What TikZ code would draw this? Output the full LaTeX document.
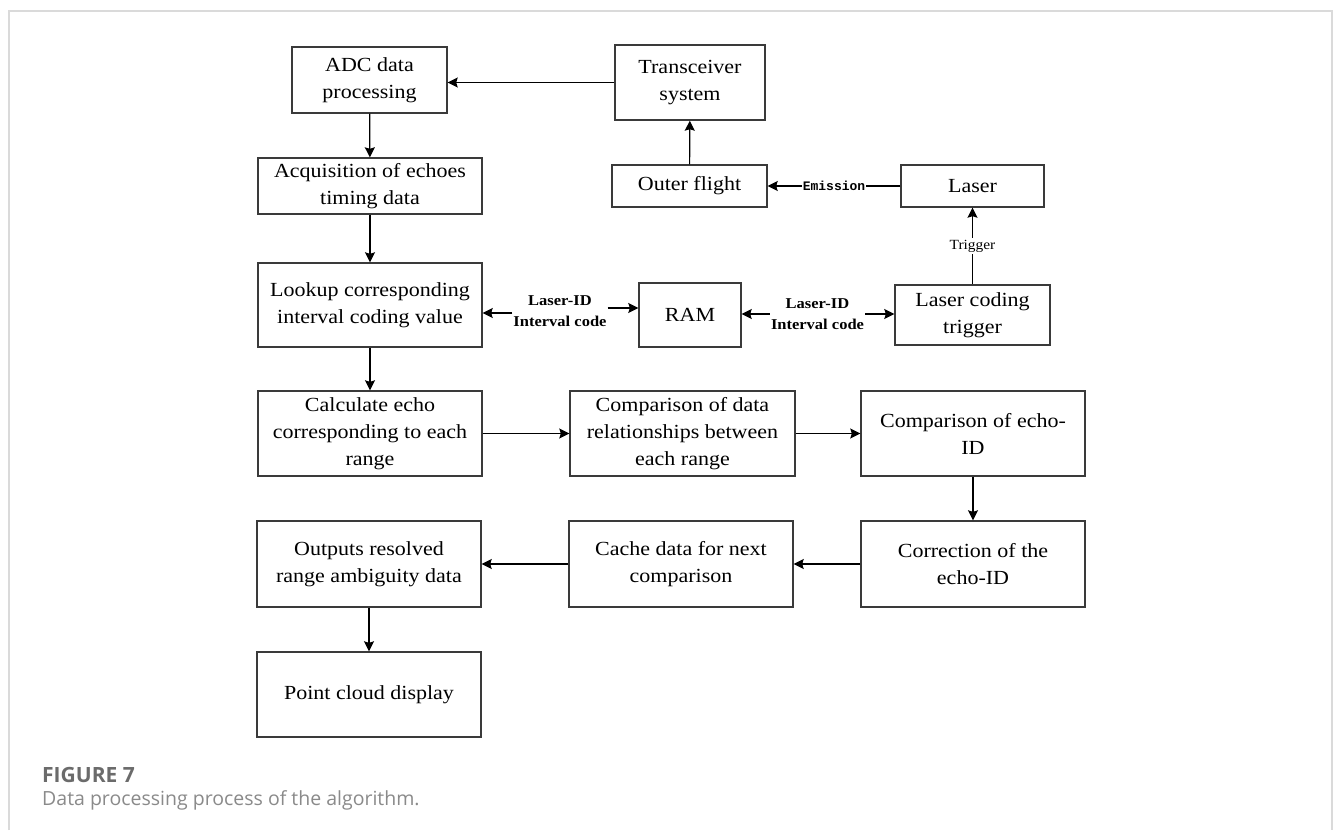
\documentclass[tikz,border=0pt]{standalone}
\usepackage{fontspec}
\setmainfont[FakeStretch=1.1]{Liberation Serif}
\newfontfamily\capfont{Open Sans}
\newfontfamily\emfont{Liberation Mono}
\usetikzlibrary{arrows.meta}
\definecolor{frame}{HTML}{DADADA}
\definecolor{boxline}{HTML}{3A3A3A}
\definecolor{capdark}{HTML}{6B6B6B}
\definecolor{caplight}{HTML}{8A8A8A}
\begin{document}
\begin{tikzpicture}[x=1pt,y=-1pt,
  box/.style={draw=boxline, line width=1.4pt, align=center, inner sep=0pt,
    font=\fontsize{20}{27}\selectfont, text=black},
  conn/.style={draw=black, line width=1.2pt, -{Stealth[length=10pt,width=10pt,inset=1.5pt]}},
  lab/.style={align=center, inner sep=1pt, font=\bfseries\fontsize{15}{21}\selectfont},
]
\useasboundingbox (0,0) rectangle (1335,830);
\fill[white] (0,0) rectangle (1335,830);
\draw[frame, line width=1.5pt] (9,830) -- (9,11) -- (1332,11) -- (1332,830);

% boxes
\node[box, minimum width=155, minimum height=66] (adc) at (369.5,80) {ADC data\\processing};
\node[box, minimum width=150, minimum height=75] (trans) at (690,82.5) {Transceiver\\system};
\node[box, minimum width=224, minimum height=56] (acq) at (370,186) {Acquisition of echoes\\timing data};
\node[box, minimum width=155, minimum height=42] (outer) at (689.5,186) {Outer flight};
\node[box, minimum width=143, minimum height=42] (laser) at (972.5,186) {Laser};
\node[box, minimum width=224, minimum height=84] (lookup) at (370,305) {Lookup corresponding\\interval coding value};
\node[box, minimum width=102, minimum height=64] (ram) at (690,315) {RAM};
\node[box, minimum width=155, minimum height=60] (lct) at (972.5,315) {Laser coding\\trigger};
\node[box, minimum width=224, minimum height=85] (calc) at (370,433.5) {Calculate echo\\corresponding to each\\range};
\node[box, minimum width=225, minimum height=85] (cmpd) at (682.5,433.5) {Comparison of data\\relationships between\\each range};
\node[box, minimum width=224, minimum height=85] (cmpe) at (973,433.5) {Comparison of echo-\\ID};
\node[box, minimum width=224, minimum height=86] (corr) at (973,564) {Correction of the\\echo-ID};
\node[box, minimum width=224, minimum height=86] (cache) at (681,564) {Cache data for next\\comparison};
\node[box, minimum width=224, minimum height=86] (outp) at (369,564) {Outputs resolved\\range ambiguity data};
\node[box, minimum width=224, minimum height=85] (pcd) at (369,694.5) {Point cloud display};

% labels between boxes
\node[lab] (lab1) at (560,311) {Laser-ID\\Interval code};
\node[lab] (lab2) at (817.5,314) {Laser-ID\\Interval code};

% connectors
\draw[conn] (trans.west) -- (trans.west -| adc.east);
\draw[conn] (adc) -- (acq);
\draw[conn] (acq) -- (lookup);
\draw[conn] (lookup) -- (calc);
\draw[conn] (outer) -- (trans);
\draw[conn] (laser) -- node[fill=white, inner sep=1pt, font=\emfont\bfseries\fontsize{13}{15}\selectfont]{Emission} (outer);
\draw[conn] (lct) -- node[fill=white, inner sep=2pt, font=\fontsize{14}{16}\selectfont]{Trigger} (laser);
\draw[conn] ([yshift=-2]lab1.west) -- ([yshift=-2]lab1.west -| lookup.east);
\draw[conn] ([yshift=3]lab1.east) -- ([yshift=3]lab1.east -| ram.west);
\draw[conn] (lab2.west) -- (lab2.west -| ram.east);
\draw[conn] (lab2.east) -- (lab2.east -| lct.west);
\draw[conn] (calc) -- (cmpd);
\draw[conn] (cmpd) -- (cmpe);
\draw[conn] (cmpe) -- (corr);
\draw[conn] (corr) -- (cache);
\draw[conn] (cache) -- (outp);
\draw[conn] (outp) -- (pcd);

% caption
\node[anchor=base west, inner sep=0pt, text=capdark, font=\capfont\bfseries\fontsize{21}{24}\selectfont] (fig) at (42,782) {FIGURE 7};
\node[anchor=base west, inner sep=0pt, text=caplight, font=\capfont\fontsize{19.5}{22}\selectfont] (cap) at (42,805) {Data processing process of the algorithm.};
\end{tikzpicture}
\end{document}
